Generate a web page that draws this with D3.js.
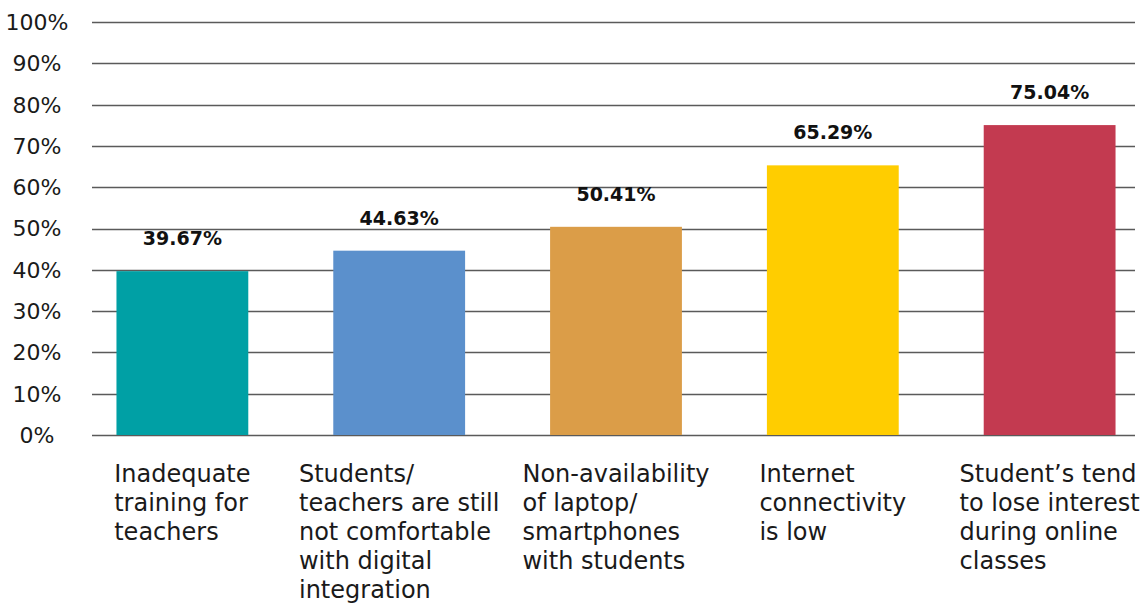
<!DOCTYPE html>
<html>
<head>
<meta charset="utf-8">
<script src="https://cdn.jsdelivr.net/npm/d3@7"></script>
<style>
  html, body { margin: 0; padding: 0; background: #fff; }
  svg { display: block; }
  text { font-family: "DejaVu Sans", sans-serif; fill: #1a1a1a; }
</style>
</head>
<body>
<svg id="chart" width="1148" height="603"></svg>
<script>
// Challenges faced in online teaching (% of respondents)
const categories = [
  ["Inadequate", "training for", "teachers"],
  ["Students/", "teachers are still", "not comfortable", "with digital", "integration"],
  ["Non-availability", "of laptop/", "smartphones", "with students"],
  ["Internet", "connectivity", "is low"],
  ["Student\u2019s tend", "to lose interest", "during online", "classes"]
];
const values = [39.67, 44.63, 50.41, 65.29, 75.04];
const valueLabels = ["39.67%", "44.63%", "50.41%", "65.29%", "75.04%"];
const barColors = ["#00A0A5", "#5B90CC", "#DB9D48", "#FFCD00", "#C33A50"];
const yTicks = [0, 10, 20, 30, 40, 50, 60, 70, 80, 90, 100];
const yTickLabels = ["0%", "10%", "20%", "30%", "40%", "50%", "60%", "70%", "80%", "90%", "100%"];

const svg = d3.select("#chart");
const gridLeft = 92, gridRight = 1135, plotTop = 22, plotBottom = 435;

const x = d3.scaleBand()
  .domain(d3.range(values.length))
  .range([95, 1137])
  .paddingInner(0.392)
  .paddingOuter(0.099);

const y = d3.scaleLinear()
  .domain([0, 100])
  .range([plotBottom, plotTop]);

// Horizontal gridlines
svg.append("g")
  .selectAll("line")
  .data(yTicks)
  .join("line")
  .attr("x1", gridLeft)
  .attr("x2", gridRight)
  .attr("y1", d => Math.round(y(d)) + 0.5)
  .attr("y2", d => Math.round(y(d)) + 0.5)
  .attr("stroke", "#5a5a5a")
  .attr("stroke-width", 1.3);

// Y tick labels
svg.append("g")
  .selectAll("text")
  .data(yTicks)
  .join("text")
  .attr("x", 37)
  .attr("y", d => y(d))
  .attr("dy", "0.36em")
  .attr("text-anchor", "middle")
  .style("font-size", "22px")
  .text((d, i) => yTickLabels[i]);

// Bars
svg.append("g")
  .selectAll("rect")
  .data(values)
  .join("rect")
  .attr("x", (d, i) => x(i))
  .attr("y", d => y(d))
  .attr("width", x.bandwidth())
  .attr("height", d => y(0) - y(d))
  .attr("fill", (d, i) => barColors[i]);

// Value labels above bars
svg.append("g")
  .selectAll("text")
  .data(values)
  .join("text")
  .attr("x", (d, i) => x(i) + x.bandwidth() / 2)
  .attr("y", d => y(d) - 26)
  .attr("text-anchor", "middle")
  .style("font-size", "19px")
  .style("font-weight", "bold")
  .style("fill", "#111")
  .text((d, i) => valueLabels[i]);

// Category labels: left-aligned blocks centred under each bar
const catG = svg.append("g");
categories.forEach((lines, i) => {
  const t = catG.append("text")
    .style("font-size", "24px")
    .attr("x", 0)
    .attr("y", 482);
  lines.forEach((ln, j) => {
    t.append("tspan").attr("x", 0).attr("dy", j === 0 ? 0 : 29).text(ln);
  });
  const w = t.node().getBBox().width;
  const cx = x(i) + x.bandwidth() / 2;
  const left = Math.min(cx - w / 2, 1146 - w);
  t.attr("x", left);
  t.selectAll("tspan").attr("x", left);
});
</script>
</body>
</html>
